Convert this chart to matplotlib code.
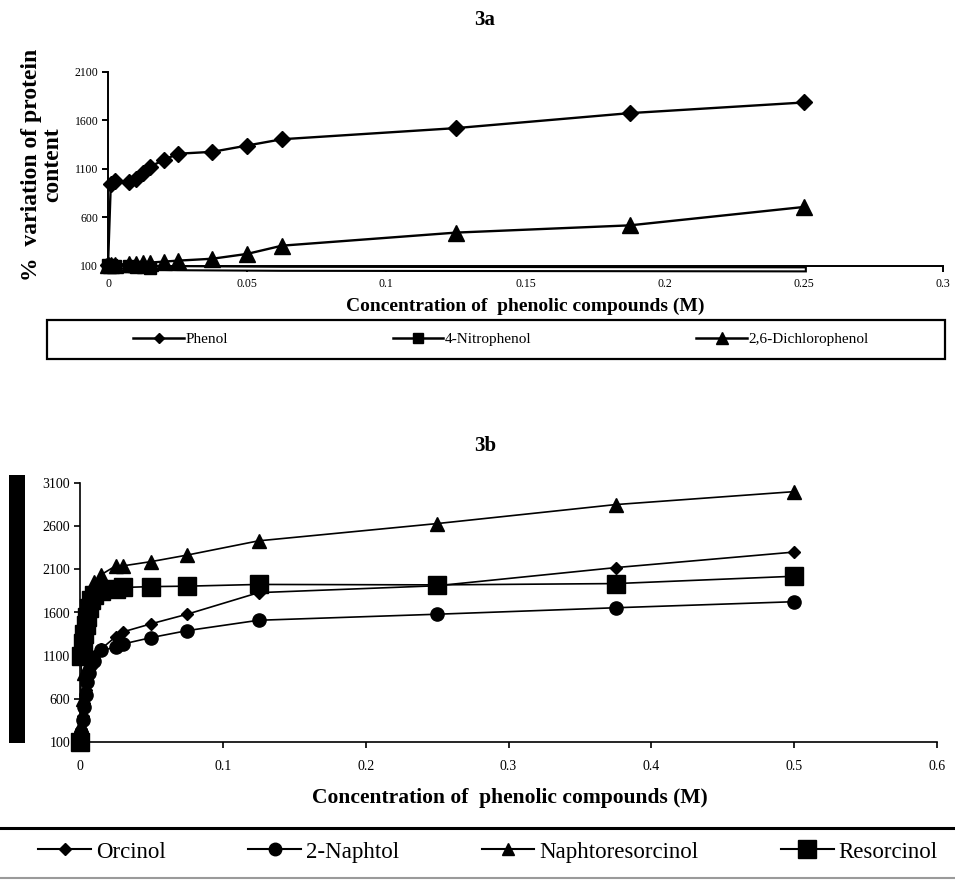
import matplotlib
matplotlib.use("Agg")
import matplotlib.pyplot as plt
import matplotlib.patheffects as pe
from matplotlib.lines import Line2D
from matplotlib.patches import Rectangle

plt.rcParams['font.family'] = ['Liberation Serif', 'DejaVu Serif']

# ---- 3a data ----
conc_a = [0, 0.001, 0.0025, 0.0075, 0.01, 0.0125, 0.015, 0.02, 0.025, 0.0375, 0.05, 0.0625, 0.125, 0.1875, 0.25]
phenol = [100, 940, 970, 960, 990, 1060, 1120, 1190, 1255, 1275, 1340, 1405, 1520, 1675, 1785]
nitrophenol = [100, 100, 95, 90, 85, 80, 78, 75, 72, 70, 68, 66, 64, 62, 60]
dichlorophenol = [100, 100, 105, 115, 120, 125, 130, 140, 150, 170, 220, 305, 440, 515, 705]
xticks_a = [0, 0.05, 0.1, 0.15, 0.2, 0.25, 0.3]
xticklabels_a = ['0', '0.05', '0.1', '0.15', '0.2', '0.25', '0.3']
yticks_a = [100, 600, 1100, 1600, 2100]

# ---- 3b data ----
conc_b = [0, 0.001, 0.002, 0.003, 0.004, 0.005, 0.006, 0.008, 0.01, 0.015, 0.025, 0.03, 0.05, 0.075, 0.125, 0.25, 0.375, 0.5]
orcinol = [100, 250, 400, 550, 700, 850, 950, 1050, 1100, 1180, 1320, 1375, 1470, 1580, 1830, 1910, 2120, 2300]
naphtol = [100, 200, 350, 500, 650, 800, 900, 1000, 1040, 1160, 1200, 1235, 1310, 1390, 1510, 1580, 1655, 1725]
naphtoresorcinol = [100, 300, 600, 900, 1200, 1500, 1700, 1850, 1950, 2040, 2140, 2140, 2190, 2265, 2430, 2630, 2850, 3000]
resorcinol = [100, 1100, 1250, 1350, 1450, 1550, 1650, 1750, 1800, 1850, 1870, 1890, 1900, 1905, 1925, 1920, 1935, 2020]
xticks_b = [0, 0.1, 0.2, 0.3, 0.4, 0.5, 0.6]
xticklabels_b = ['0', '0.1', '0.2', '0.3', '0.4', '0.5', '0.6']
yticks_b = [100, 600, 1100, 1600, 2100, 2600, 3100]

W, H = 955, 880
fig = plt.figure(figsize=(W / 100, H / 100), dpi=100)


def fx(px):
    return px / W


def fy(py):
    return 1 - py / H


def style_axes(ax, lw, tick_fs, xpad):
    for s in ('top', 'right'):
        ax.spines[s].set_visible(False)
    for s in ('left', 'bottom'):
        ax.spines[s].set_linewidth(lw)
    ax.tick_params(direction='out', length=4, width=lw, labelsize=tick_fs, pad=3)
    ax.tick_params(axis='x', pad=xpad)


# ---------------- 3a ----------------
ax1 = fig.add_axes([fx(108), fy(265.5), fx(943) - fx(108), fy(72) - fy(265.5)])
ax1.set_xlim(0, 0.3)
ax1.set_ylim(100, 2100)
ax1.set_xticks(xticks_a)
ax1.set_xticklabels(xticklabels_a)
ax1.set_yticks(yticks_a)
style_axes(ax1, 1.4, 8.5, 5)

ax1.plot(conc_a, phenol, color='black', lw=1.7, marker='D', ms=8, clip_on=False, zorder=3)
ax1.plot(conc_a, nitrophenol, color='white', lw=1.4, clip_on=False, zorder=2,
         path_effects=[pe.Stroke(linewidth=4.4, foreground='black'), pe.Normal()])
ax1.plot(conc_a, nitrophenol, ls='none', color='black', marker='s', ms=8,
         markevery=slice(0, 7), clip_on=False, zorder=2)
ax1.plot(conc_a, dichlorophenol, color='black', lw=1.7, marker='^', ms=11, clip_on=False, zorder=3)

fig.text(fx(485), fy(20), '3a', ha='center', va='center', fontsize=15, fontweight='bold')
fig.text(fx(525), fy(306), 'Concentration of  phenolic compounds (M)', ha='center', va='center',
         fontsize=14, fontweight='bold')
fig.text(fx(42), fy(165), '%  variation of protein\ncontent', rotation=90, ha='center', va='center',
         fontsize=17, fontweight='bold', linespacing=1.05, multialignment='center')

# legend box for 3a
fig.add_artist(Rectangle((fx(47), fy(359)), fx(945) - fx(47), fy(320) - fy(359),
                         transform=fig.transFigure, fill=False, edgecolor='black', lw=1.6))
handles_a = [
    Line2D([], [], color='black', lw=1.8, marker='D', ms=5.5),
    Line2D([], [], color='black', lw=1.8, marker='s', ms=7.5),
    Line2D([], [], color='black', lw=1.8, marker='^', ms=8),
]
fig.legend(handles_a, ['Phenol', '4-Nitrophenol', '2,6-Dichlorophenol'], loc='center',
           bbox_to_anchor=(fx(501), fy(339.5)), ncol=3, frameon=False, fontsize=11,
           handlelength=3.3, handletextpad=0.1, columnspacing=10.8)

# ---------------- 3b ----------------
ax2 = fig.add_axes([fx(80), fy(742), fx(937) - fx(80), fy(483) - fy(742)])
ax2.set_xlim(0, 0.6)
ax2.set_ylim(100, 3100)
ax2.set_xticks(xticks_b)
ax2.set_xticklabels(xticklabels_b)
ax2.set_yticks(yticks_b)
style_axes(ax2, 1.2, 10, 9)

ax2.plot(conc_b, orcinol, color='black', lw=1.2, marker='D', ms=6, clip_on=False, zorder=3)
ax2.plot(conc_b, naphtol, color='black', lw=1.2, marker='o', ms=9.5, clip_on=False, zorder=3)
ax2.plot(conc_b, naphtoresorcinol, color='black', lw=1.2, marker='^', ms=9.5, clip_on=False, zorder=3)
ax2.plot(conc_b, resorcinol, color='black', lw=1.2, marker='s', ms=13.5, clip_on=False, zorder=3)

fig.text(fx(485), fy(446), '3b', ha='center', va='center', fontsize=15, fontweight='bold')
fig.text(fx(510), fy(798), 'Concentration of  phenolic compounds (M)', ha='center', va='center',
         fontsize=15.5, fontweight='bold')

# solid bar in place of the y label
fig.add_artist(Rectangle((fx(9), fy(743)), fx(25) - fx(9), fy(475) - fy(743),
                         transform=fig.transFigure, facecolor='black', edgecolor='none'))

# legend 3b with rules above / below
fig.add_artist(Line2D([0, 1], [fy(828), fy(828)], transform=fig.transFigure, color='black', lw=2.2))
fig.add_artist(Line2D([0, 1], [fy(878), fy(878)], transform=fig.transFigure, color='#9a9a9a', lw=1.5))
handles_b = [
    Line2D([], [], color='black', lw=1.5, marker='D', ms=6),
    Line2D([], [], color='black', lw=1.5, marker='o', ms=9),
    Line2D([], [], color='black', lw=1.5, marker='^', ms=9),
    Line2D([], [], color='black', lw=1.5, marker='s', ms=13),
]
fig.legend(handles_b, ['Orcinol', '2-Naphtol', 'Naphtoresorcinol', 'Resorcinol'], loc='center',
           bbox_to_anchor=(fx(488), fy(852)), ncol=4, frameon=False, fontsize=16.5,
           handlelength=2.3, handletextpad=0.22, columnspacing=3.6)

fig.savefig('out.png', dpi=100)
